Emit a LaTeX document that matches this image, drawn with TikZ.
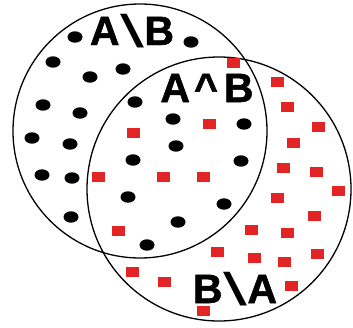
\documentclass[tikz,border=0pt]{standalone}
\usepackage{fontspec}
\setmainfont{Liberation Sans}[BoldFeatures={FakeBold=1.2}]
\usepackage{graphicx}
\definecolor{sqred}{RGB}{226,36,36}
\newcommand{\widebs}{\kern0.5pt\raisebox{-2.5pt}{\scalebox{2.1}[1.12]{\mdseries\textbackslash}}\kern0.5pt}
\begin{document}
\begin{tikzpicture}[x=1pt,y=-1pt,
  setcircle/.style={draw=black,line width=1.3pt},
  redsq/.style={fill=sqred,draw=none},
  setlabel/.style={inner sep=0pt,anchor=base,font=\fontsize{41}{41}\selectfont\bfseries}]
\useasboundingbox (0,0) rectangle (353,327);
\fill[white] (0,0) rectangle (353,327);
% circles
\draw[setcircle] (140,131) circle[radius=127];
\draw[setcircle] (219,189) circle[radius=132];
% black dots
\foreach \p in {(75,37),(191,42),(53,62),(90,77),(123,69),(43,105),(80,113),(135,102),
  (32,138),(70,144),(133,160),(173,119),(176,146),(244,124),(241,161),(42,175),
  (72,178),(128,197),(71,217),(147,245),(178,222),(224,204)}
  \fill[black] \p ellipse[x radius=7.5,y radius=5.7];
% red squares
\foreach \x/\y in {233/63,277/82,287/107,318/127,293/143,283/168,316/172,338/191,
  277/198,314/216,251/230,287/233,217/252,254/258,284/262,317/254,291/286,203/311,
  133/133,209/124,98/177,163/177,203/177,118/231,132/272,164/282}
  \fill[redsq] (\x-6.5,\y-5) rectangle (\x+6.5,\y+5);
% labels
\node[setlabel] (amb) at (132,45) {A\widebs B};
\node[setlabel] (anb) at (207,102) {A\kern4pt\^{}\kern6pt B};
\node[setlabel] (bma) at (235,303) {B\widebs A};
\end{tikzpicture}
\end{document}
